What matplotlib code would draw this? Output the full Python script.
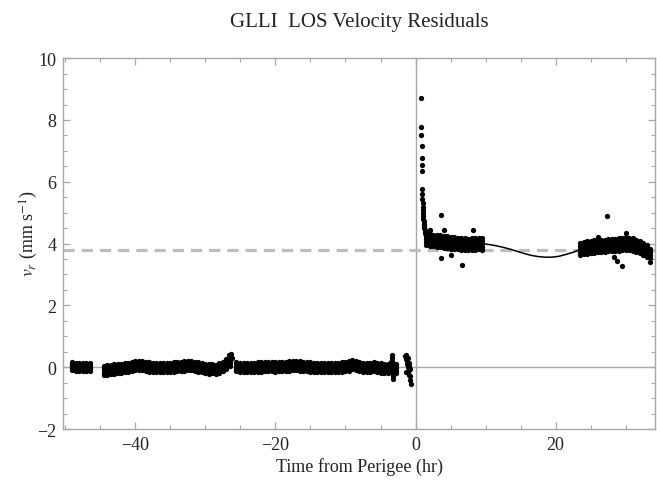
import numpy as np
import matplotlib.pyplot as plt

# ====================== DATA ======================

# pre-perigee, short first pass
pass0_x = [-49.0, -48.5, -48.0, -47.5, -47.0, -46.5]
pass0_y = [0.03, 0.02, 0.00, 0.01, 0.00, 0.01]
pass0_spread = 0.13

# pre-perigee, main pass (band centre, every 0.5 hr)
pass1_x = [-44.5, -44.0, -43.5, -43.0, -42.5, -42.0, -41.5, -41.0, -40.5, -40.0,
           -39.5, -39.0, -38.5, -38.0, -37.5, -37.0, -36.5, -36.0, -35.5, -35.0,
           -34.5, -34.0, -33.5, -33.0, -32.5, -32.0, -31.5, -31.0, -30.5, -30.0,
           -29.5, -29.0, -28.5, -28.0, -27.5, -27.0, -26.5,
           -25.7, -25.0, -24.5, -24.0, -23.5, -23.0, -22.5, -22.0, -21.5, -21.0,
           -20.5, -20.0, -19.5, -19.0, -18.5, -18.0, -17.5, -17.0, -16.5, -16.0,
           -15.5, -15.0, -14.5, -14.0, -13.5, -13.0, -12.5, -12.0, -11.5, -11.0,
           -10.5, -10.0, -9.5, -9.0, -8.5, -8.0, -7.5, -7.0, -6.5, -6.0,
           -5.5, -5.0, -4.5, -4.0, -3.5, -3.0, -2.75]
pass1_y = [-0.10, -0.09, -0.08, -0.06, -0.05, -0.04, -0.02, 0.00, 0.03, 0.05,
           0.06, 0.05, 0.03, 0.01, 0.00, -0.01, -0.01, 0.00, -0.01, 0.00,
           0.01, 0.02, 0.03, 0.04, 0.06, 0.05, 0.03, 0.01, -0.02, -0.04,
           -0.06, -0.05, -0.07, -0.03, 0.02, 0.10, 0.20,
           0.02, 0.00, -0.01, -0.02, -0.01, 0.00, 0.01, 0.01, 0.02, 0.03,
           0.02, 0.01, 0.02, 0.03, 0.03, 0.04, 0.05, 0.06, 0.04, 0.03,
           0.02, 0.01, 0.00, -0.01, -0.02, -0.02, -0.01, -0.01, 0.00, 0.00,
           0.01, 0.02, 0.04, 0.08, 0.06, 0.02, 0.00, -0.01, 0.00, 0.02,
           0.00, -0.03, -0.05, -0.04, 0.02, -0.05, -0.04]
pass1_spread = 0.15

# isolated excursions before perigee
spike_x = [-26.6, -26.4, -26.2, -3.4, -3.4, -3.3, -3.3, -3.2, -3.2, -3.3, -3.3,
           -1.5, -1.4, -1.3, -1.2, -1.1, -1.0, -0.9, -0.8, -0.7,
           -1.3, -1.2, -1.0, -0.8, -0.8, -1.1, -0.9]
spike_y = [0.40, 0.43, 0.30, 0.30, 0.40, 0.20, -0.20, -0.30, -0.38, 0.10, -0.10,
           0.35, 0.40, 0.25, 0.10, 0.00, -0.10, -0.25, -0.40, -0.55,
           -0.15, 0.20, 0.15, -0.05, -0.30, 0.30, 0.05]

# post-perigee transient
decay_x = [0.78, 0.82, 0.84, 0.86, 0.88, 0.90, 0.92,
           0.92, 0.95, 0.98, 1.00, 1.03, 1.05, 1.08, 1.10, 1.13, 1.15, 1.18,
           1.20, 1.25, 1.30, 1.35, 1.40, 1.45, 1.50]
decay_y = [8.70, 7.77, 7.50, 7.15, 6.77, 6.55, 6.34,
           5.77, 5.60, 5.45, 5.30, 5.18, 5.08, 4.98, 4.90, 4.80, 4.72, 4.65,
           4.58, 4.50, 4.44, 4.38, 4.33, 4.28, 4.24]

# post-perigee first pass (band centre)
pass2_x = [1.5, 2.0, 2.5, 3.0, 3.5, 4.0, 4.5, 5.0, 5.5, 6.0,
           6.5, 7.0, 7.5, 8.0, 8.5, 9.0, 9.5]
pass2_y = [4.15, 4.12, 4.10, 4.08, 4.08, 4.06, 4.05, 4.03, 4.02, 4.00,
           3.98, 3.98, 3.97, 3.98, 3.98, 4.00, 3.98]
pass2_spread = 0.19
out2_x = [2.0, 3.7, 3.7, 4.0, 5.0, 6.7, 8.2]
out2_y = [4.45, 4.93, 3.54, 4.45, 3.62, 3.32, 4.45]

# model curve across the gap
model_x = [9.4, 10.5, 11.5, 12.5, 13.5, 14.5, 15.5, 16.5, 17.5, 18.5,
           19.5, 20.5, 21.5, 22.5, 23.5]
model_y = [4.00, 3.97, 3.93, 3.88, 3.82, 3.75, 3.68, 3.62, 3.58, 3.56,
           3.56, 3.59, 3.65, 3.72, 3.80]

# post-perigee second pass (band centre)
pass3_x = [23.5, 24.0, 24.5, 25.0, 25.5, 26.0, 26.5, 27.0, 27.5, 28.0,
           28.5, 29.0, 29.5, 30.0, 30.5, 31.0, 31.5, 32.0, 32.5, 33.0, 33.5]
pass3_y = [3.83, 3.85, 3.87, 3.88, 3.90, 3.92, 3.93, 3.93, 3.95, 3.96,
           3.95, 3.97, 3.98, 4.00, 3.99, 3.97, 3.93, 3.88, 3.82, 3.75, 3.62]
pass3_spread = 0.2
out3_x = [26.0, 27.3, 28.3, 28.8, 29.5, 30.0]
out3_y = [4.20, 4.90, 3.58, 3.45, 3.29, 4.35]

mean_level = 3.8

# ====================== STYLES ======================
plt.rcParams['font.family'] = ['Liberation Serif', 'DejaVu Serif']
plt.rcParams['mathtext.fontset'] = 'stix'

frame_col = '#a8a8a8'
dot = dict(linestyle='none', marker='o', markersize=3.8, color='black',
           markeredgewidth=0)

fig = plt.figure(figsize=(6.57, 4.81), dpi=100)
ax = fig.add_axes([0.0963, 0.106, 0.9007, 0.771])

# axes through the origin (Mathematica style)
ax.axhline(0, color=frame_col, linewidth=1.0, zorder=1)
ax.axvline(0, color=frame_col, linewidth=1.0, zorder=1)

# mean level
ax.axhline(mean_level, color='#bdbdbd', linewidth=2.3,
           linestyle=(0, (3.5, 2.2)), zorder=1)


def band(x, y, s):
    # draw a dense band of residuals as several rows of dots
    x = np.asarray(x)
    y = np.asarray(y)
    for f in (-1.0, -0.5, 0.0, 0.5, 1.0):
        ax.plot(x, y + f * s, zorder=3, **dot)


band(pass0_x, pass0_y, pass0_spread)
band(pass1_x, pass1_y, pass1_spread)
band(pass2_x, pass2_y, pass2_spread)
band(pass3_x, pass3_y, pass3_spread)

ax.plot(spike_x, spike_y, zorder=3, **dot)
ax.plot(decay_x, decay_y, zorder=3, **dot)
ax.plot(out2_x, out2_y, zorder=3, **dot)
ax.plot(out3_x, out3_y, zorder=3, **dot)

ax.plot(model_x, model_y, color='black', linewidth=1.1, zorder=2)

# ====================== GRAPH SETTINGS ======================
ax.set_xlim(-50.3, 34.2)
ax.set_ylim(-2, 10)

ax.set_xticks([-40, -20, 0, 20])
ax.set_xticklabels(['\u221240', '\u221220', '0', '20'])
ax.set_xticks(np.arange(-50, 35, 5), minor=True)
ax.set_yticks([-2, 0, 2, 4, 6, 8, 10])
ax.set_yticklabels(['\u22122', '0', '2', '4', '6', '8', '10'])
ax.set_yticks(np.arange(-2, 10.01, 0.5), minor=True)

ax.tick_params(which='both', direction='in', top=True, right=True,
               color=frame_col, labelsize=13, labelcolor='#222222', pad=5)
ax.tick_params(which='major', length=5, width=0.9)
ax.tick_params(which='minor', length=3, width=0.8)

for sp in ax.spines.values():
    sp.set_color(frame_col)
    sp.set_linewidth(1.0)

ax.set_xlabel('Time from Perigee (hr)', fontsize=13, color='#222222', labelpad=3)
ax.set_ylabel(r'$v_r$ (mm s$^{-1}$)', fontsize=13, color='#222222')
ax.yaxis.set_label_coords(-0.04, 0.53)
ax.set_title('GLLI  LOS Velocity Residuals', fontsize=15, color='#222222', pad=23)

fig.savefig('out.png', dpi=100)
